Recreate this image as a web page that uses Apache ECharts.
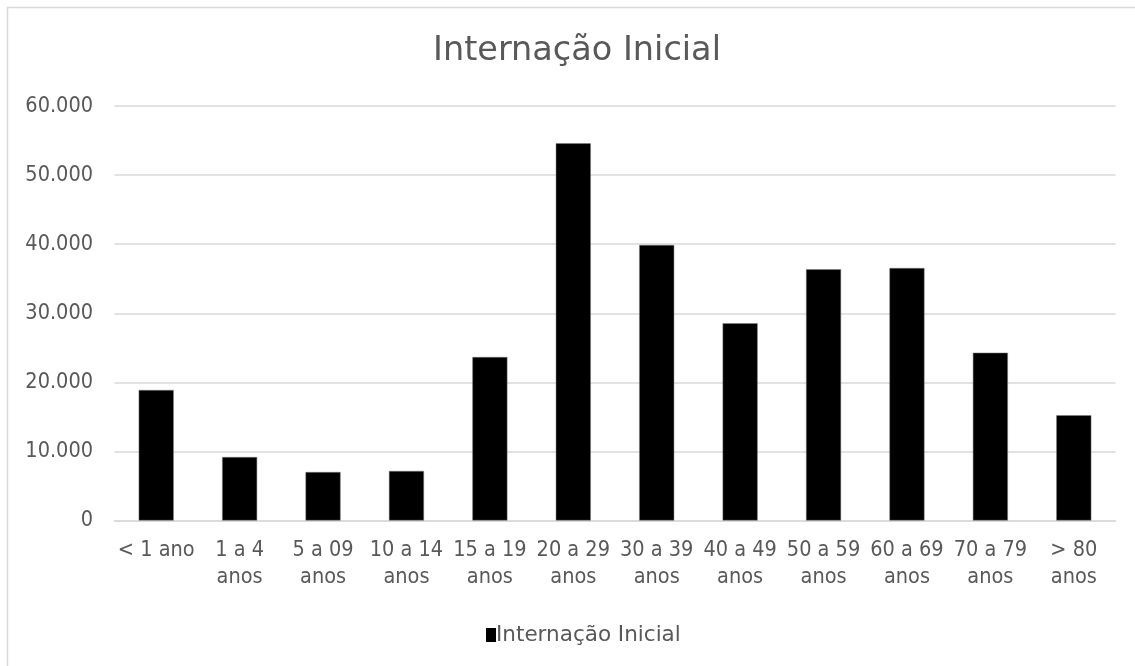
<!DOCTYPE html>
<html>
<head>
<meta charset="utf-8">
<script src="https://cdn.jsdelivr.net/npm/echarts@6/dist/echarts.min.js"></script>
<style>
  html, body { margin: 0; padding: 0; background: #ffffff; }
  #chart { width: 1135px; height: 666px; }
</style>
</head>
<body>
<div id="chart"></div>
<script>
// Age groups (category axis)
const categories = [
  '< 1 ano', '1 a 4\nanos', '5 a 09\nanos', '10 a 14\nanos', '15 a 19\nanos', '20 a 29\nanos',
  '30 a 39\nanos', '40 a 49\nanos', '50 a 59\nanos', '60 a 69\nanos', '70 a 79\nanos', '> 80\nanos'
];
// Initial hospitalisations per age group
const internacaoInicial = [18890, 9190, 7020, 7170, 23670, 54600, 39880, 28550, 36360, 36550, 24290, 15230];
// Value axis ticks
const yTicks = [0, 10000, 20000, 30000, 40000, 50000, 60000];

const seriesName = 'Internação Inicial';
const FONT = '"DejaVu Sans", sans-serif';
const FONT_NARROW = '"DejaVu Sans Condensed", "DejaVu Sans", sans-serif';
const TEXT = '#595959';

// pt-BR thousands separator
function fmt(v) {
  return String(v).replace(/\B(?=(\d{3})+(?!\d))/g, '.');
}

const chart = echarts.init(document.getElementById('chart'), null, { renderer: 'canvas' });
chart.setOption({
  animation: false,
  backgroundColor: '#ffffff',
  title: {
    text: seriesName,
    left: 572,
    textAlign: 'center',
    top: 29,
    textStyle: { fontFamily: FONT, fontSize: 33.5, fontWeight: 'normal', color: TEXT }
  },
  graphic: [{
    type: 'rect',
    shape: { x: 7.5, y: 7.5, width: 1200, height: 700 },
    style: { fill: 'none', stroke: '#d9d9d9', lineWidth: 1.5 },
    silent: true, z: -1
  }],
  legend: {
    data: [seriesName],
    left: 481,
    top: 619,
    icon: 'rect',
    itemWidth: 10,
    itemHeight: 14,
    itemStyle: { color: '#000000', borderWidth: 0 },
    textStyle: { fontFamily: FONT, fontSize: 21.5, color: TEXT, padding: [0, 0, 0, -5] }
  },
  grid: { left: 114.5, right: 19.5, top: 106, bottom: 145.5, containLabel: false },
  xAxis: {
    type: 'category',
    data: categories,
    axisLine: { show: true, lineStyle: { color: '#d9d9d9', width: 1.5 } },
    axisTick: { show: false },
    axisLabel: {
      interval: 0,
      margin: 16,
      fontFamily: FONT_NARROW, fontSize: 21.5, color: TEXT,
      lineHeight: 27, align: 'center'
    }
  },
  yAxis: {
    type: 'value',
    min: yTicks[0],
    max: yTicks[yTicks.length - 1],
    interval: yTicks[1] - yTicks[0],
    axisLine: { show: false },
    axisTick: { show: false },
    splitLine: { lineStyle: { color: '#d9d9d9', width: 1.5 } },
    axisLabel: {
      margin: 21.5,
      fontFamily: FONT_NARROW, fontSize: 21.5, color: TEXT,
      formatter: fmt
    }
  },
  series: [{
    name: seriesName,
    type: 'bar',
    data: internacaoInicial,
    barWidth: '42%',
    itemStyle: { color: '#000000', borderColor: '#7f7f7f', borderWidth: 0.5 }
  }]
});
</script>
</body>
</html>
